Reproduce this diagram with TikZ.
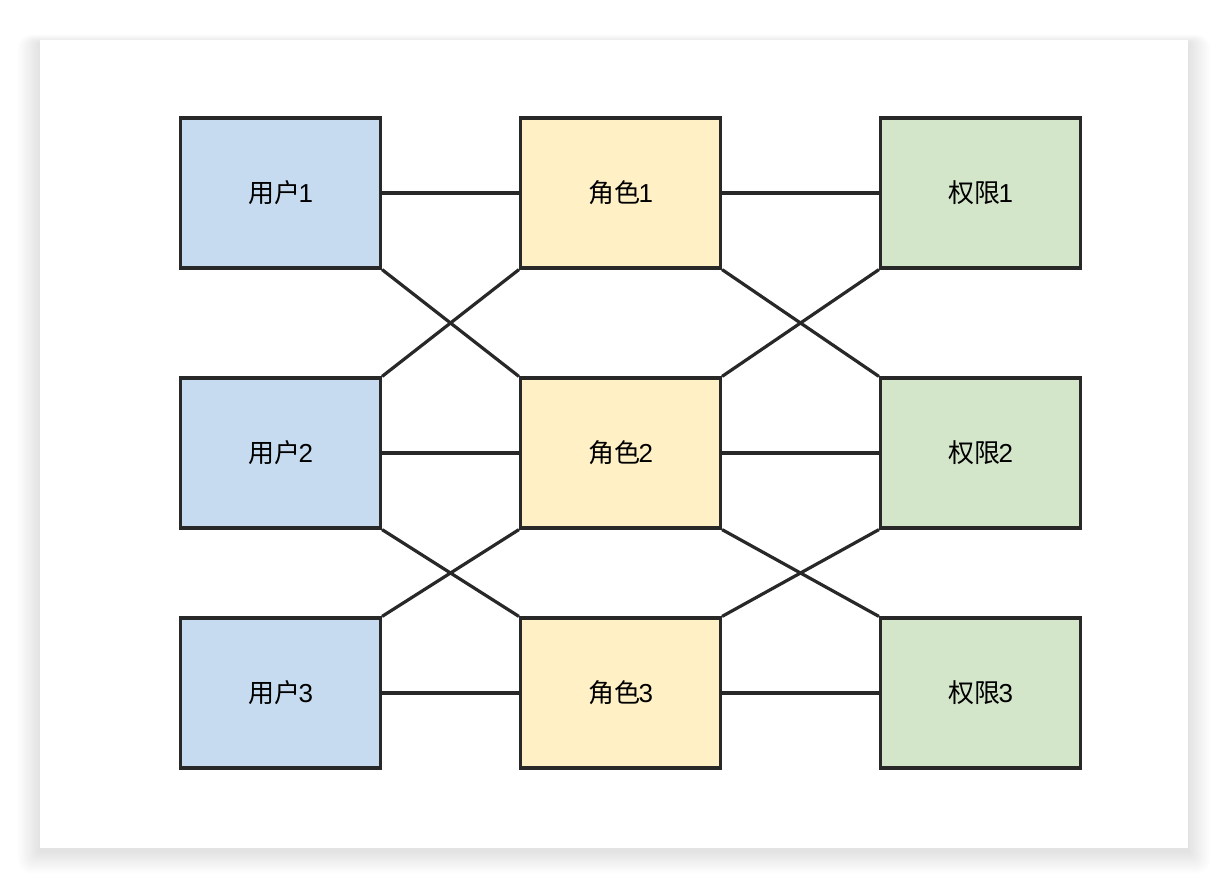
\documentclass[tikz,border=0pt]{standalone}
\usepackage{fontspec}
\setmainfont{Liberation Sans}
\newfontfamily\cjk{Noto Sans CJK SC}
\newcommand\cjklabel[2]{{\cjk #1}\kern-1.5pt#2}
\definecolor{ublue}{RGB}{198,219,239}
\definecolor{ryellow}{RGB}{255,241,197}
\definecolor{pgreen}{RGB}{212,230,202}
\definecolor{edgec}{RGB}{40,40,40}
\begin{document}
\begin{tikzpicture}[x=1pt,y=-1pt,
  box/.style={draw=edgec,line width=3.2pt,minimum width=200pt,minimum height=150pt,inner sep=0pt,font=\fontsize{26}{30}\selectfont,text=black},
  user/.style={box,fill=ublue},
  role/.style={box,fill=ryellow},
  perm/.style={box,fill=pgreen},
  link/.style={draw=edgec,line width=3.2pt}]
\useasboundingbox (0,0) rectangle (1228,888);
\fill[white] (0,0) rectangle (1228,888);
% soft shadow
\foreach \i in {1,...,14}{
  \fill[black,opacity=0.006,rounded corners=\i pt] (40-1.6*\i,40-0.6*\i+3) rectangle (1188+1.6*\i,848+1.6*\i+3);
}
\fill[white] (40,40) rectangle (1188,848);
% nodes
\node[user] (u1) at (280.5,193) {\cjklabel{用户}{1}};
\node[user] (u2) at (280.5,453) {\cjklabel{用户}{2}};
\node[user] (u3) at (280.5,693) {\cjklabel{用户}{3}};
\node[role] (r1) at (620.5,193) {\cjklabel{角色}{1}};
\node[role] (r2) at (620.5,453) {\cjklabel{角色}{2}};
\node[role] (r3) at (620.5,693) {\cjklabel{角色}{3}};
\node[perm] (p1) at (980.5,193) {\cjklabel{权限}{1}};
\node[perm] (p2) at (980.5,453) {\cjklabel{权限}{2}};
\node[perm] (p3) at (980.5,693) {\cjklabel{权限}{3}};
% horizontal links
\foreach \a/\b in {u1/r1,u2/r2,u3/r3,r1/p1,r2/p2,r3/p3}{
  \draw[link] (\a.east) -- (\b.west);
}
% diagonal links
\foreach \a/\b in {u1/r2,u2/r3,r1/p2,r2/p3}{
  \draw[link] (\a.south east) -- (\b.north west);
}
\foreach \a/\b in {u2/r1,u3/r2,r2/p1,r3/p2}{
  \draw[link] (\a.north east) -- (\b.south west);
}
\end{tikzpicture}
\end{document}
